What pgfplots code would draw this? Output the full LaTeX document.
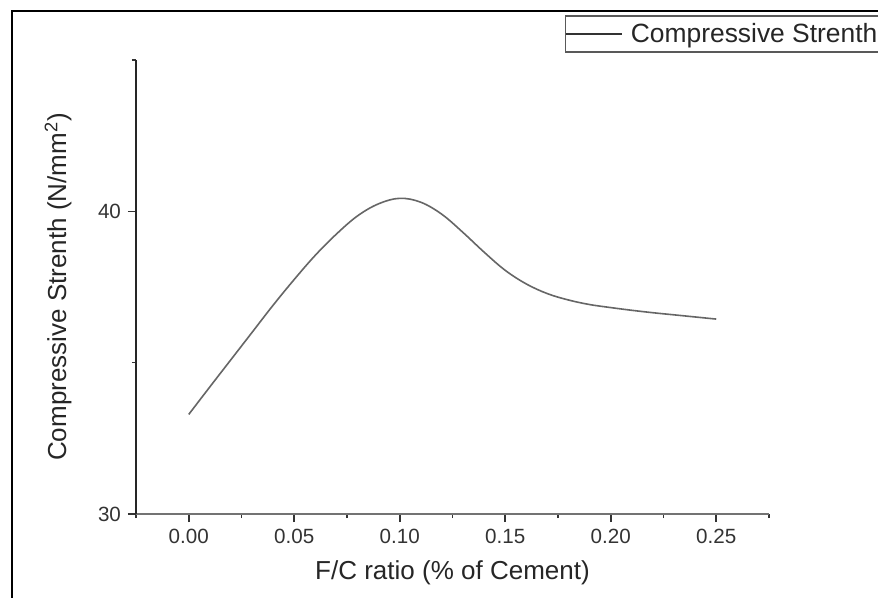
\documentclass[border=0pt]{standalone}
\usepackage{pgfplots}
\pgfplotsset{compat=1.18}
\usepackage{fontspec}
\setmainfont{Liberation Sans}
\begin{document}
\begin{tikzpicture}
\useasboundingbox (0pt,0pt) rectangle (439pt,-299pt);
\fill[white] (0pt,0pt) rectangle (439pt,-299pt);
\draw[line width=1pt, black] (6pt,-300pt) -- (6pt,-5.5pt) -- (440pt,-5.5pt);
\begin{axis}[
  at={(68pt,-257pt)}, anchor=south west,
  scale only axis, width=316.5pt, height=227pt,
  xmin=-0.025, xmax=0.275, ymin=30, ymax=45,
  axis lines=left,
  axis line style={-},
  x axis line style={black!55, line width=1pt},
  y axis line style={black!85, line width=1pt},
  xtick={0,0.05,0.10,0.15,0.20,0.25},
  minor xtick={-0.025,0.025,0.075,0.125,0.175,0.225,0.275},
  ytick={30,40},
  minor ytick={35,45},
  tick align=outside,
  major tick length=4pt, minor tick length=2pt,
  every tick/.style={black!80, line width=0.8pt},
  xticklabel style={/pgf/number format/fixed, /pgf/number format/fixed zerofill, /pgf/number format/precision=2, font=\fontsize{10.3}{12}\selectfont, text=black!80},
  yticklabel style={font=\fontsize{10.3}{12}\selectfont, text=black!80},
  /pgf/number format/assume math mode=true,
  scaled x ticks=false,
  xtick pos=bottom, ytick pos=left,
  xlabel={F/C ratio (\% of Cement)},
  ylabel={Compressive Strenth (N/mm\textsuperscript{2})},
  every axis x label/.style={at={(axis description cs:0.5,-0.130)}, anchor=center, font=\fontsize{13}{15}\selectfont, text=black!85},
  every axis y label/.style={at={(axis description cs:-0.1232,0.5)}, rotate=90, anchor=center, font=\fontsize{13}{15}\selectfont, text=black!85},
  legend style={at={(axis description cs:0.6777,1.0573)}, anchor=west,
    draw=black!65, line width=0.7pt, inner xsep=0pt, inner ysep=1.5pt,
    font=\fontsize{13.2}{14}\selectfont, text=black!85,
    nodes={inner xsep=4pt}},
  legend image code/.code={\draw[black!80, line width=0.6pt] (-4pt,0pt) -- (24pt,0pt);},
]
\addplot[black!60, line width=0.8pt, smooth, tension=0.6] coordinates {
(0.000,33.29) (0.010,34.20) (0.020,35.10) (0.030,36.00) (0.040,36.90)
(0.050,37.75) (0.060,38.55) (0.070,39.25) (0.080,39.85) (0.090,40.25)
(0.100,40.43) (0.110,40.30) (0.120,39.90) (0.130,39.30) (0.140,38.65)
(0.150,38.05) (0.160,37.60) (0.170,37.28) (0.180,37.07) (0.190,36.92)
(0.200,36.82) (0.210,36.73) (0.220,36.65) (0.230,36.58) (0.240,36.51)
(0.250,36.44)
};
\addlegendentry{Compressive Strenth}
\end{axis}
\end{tikzpicture}
\end{document}
